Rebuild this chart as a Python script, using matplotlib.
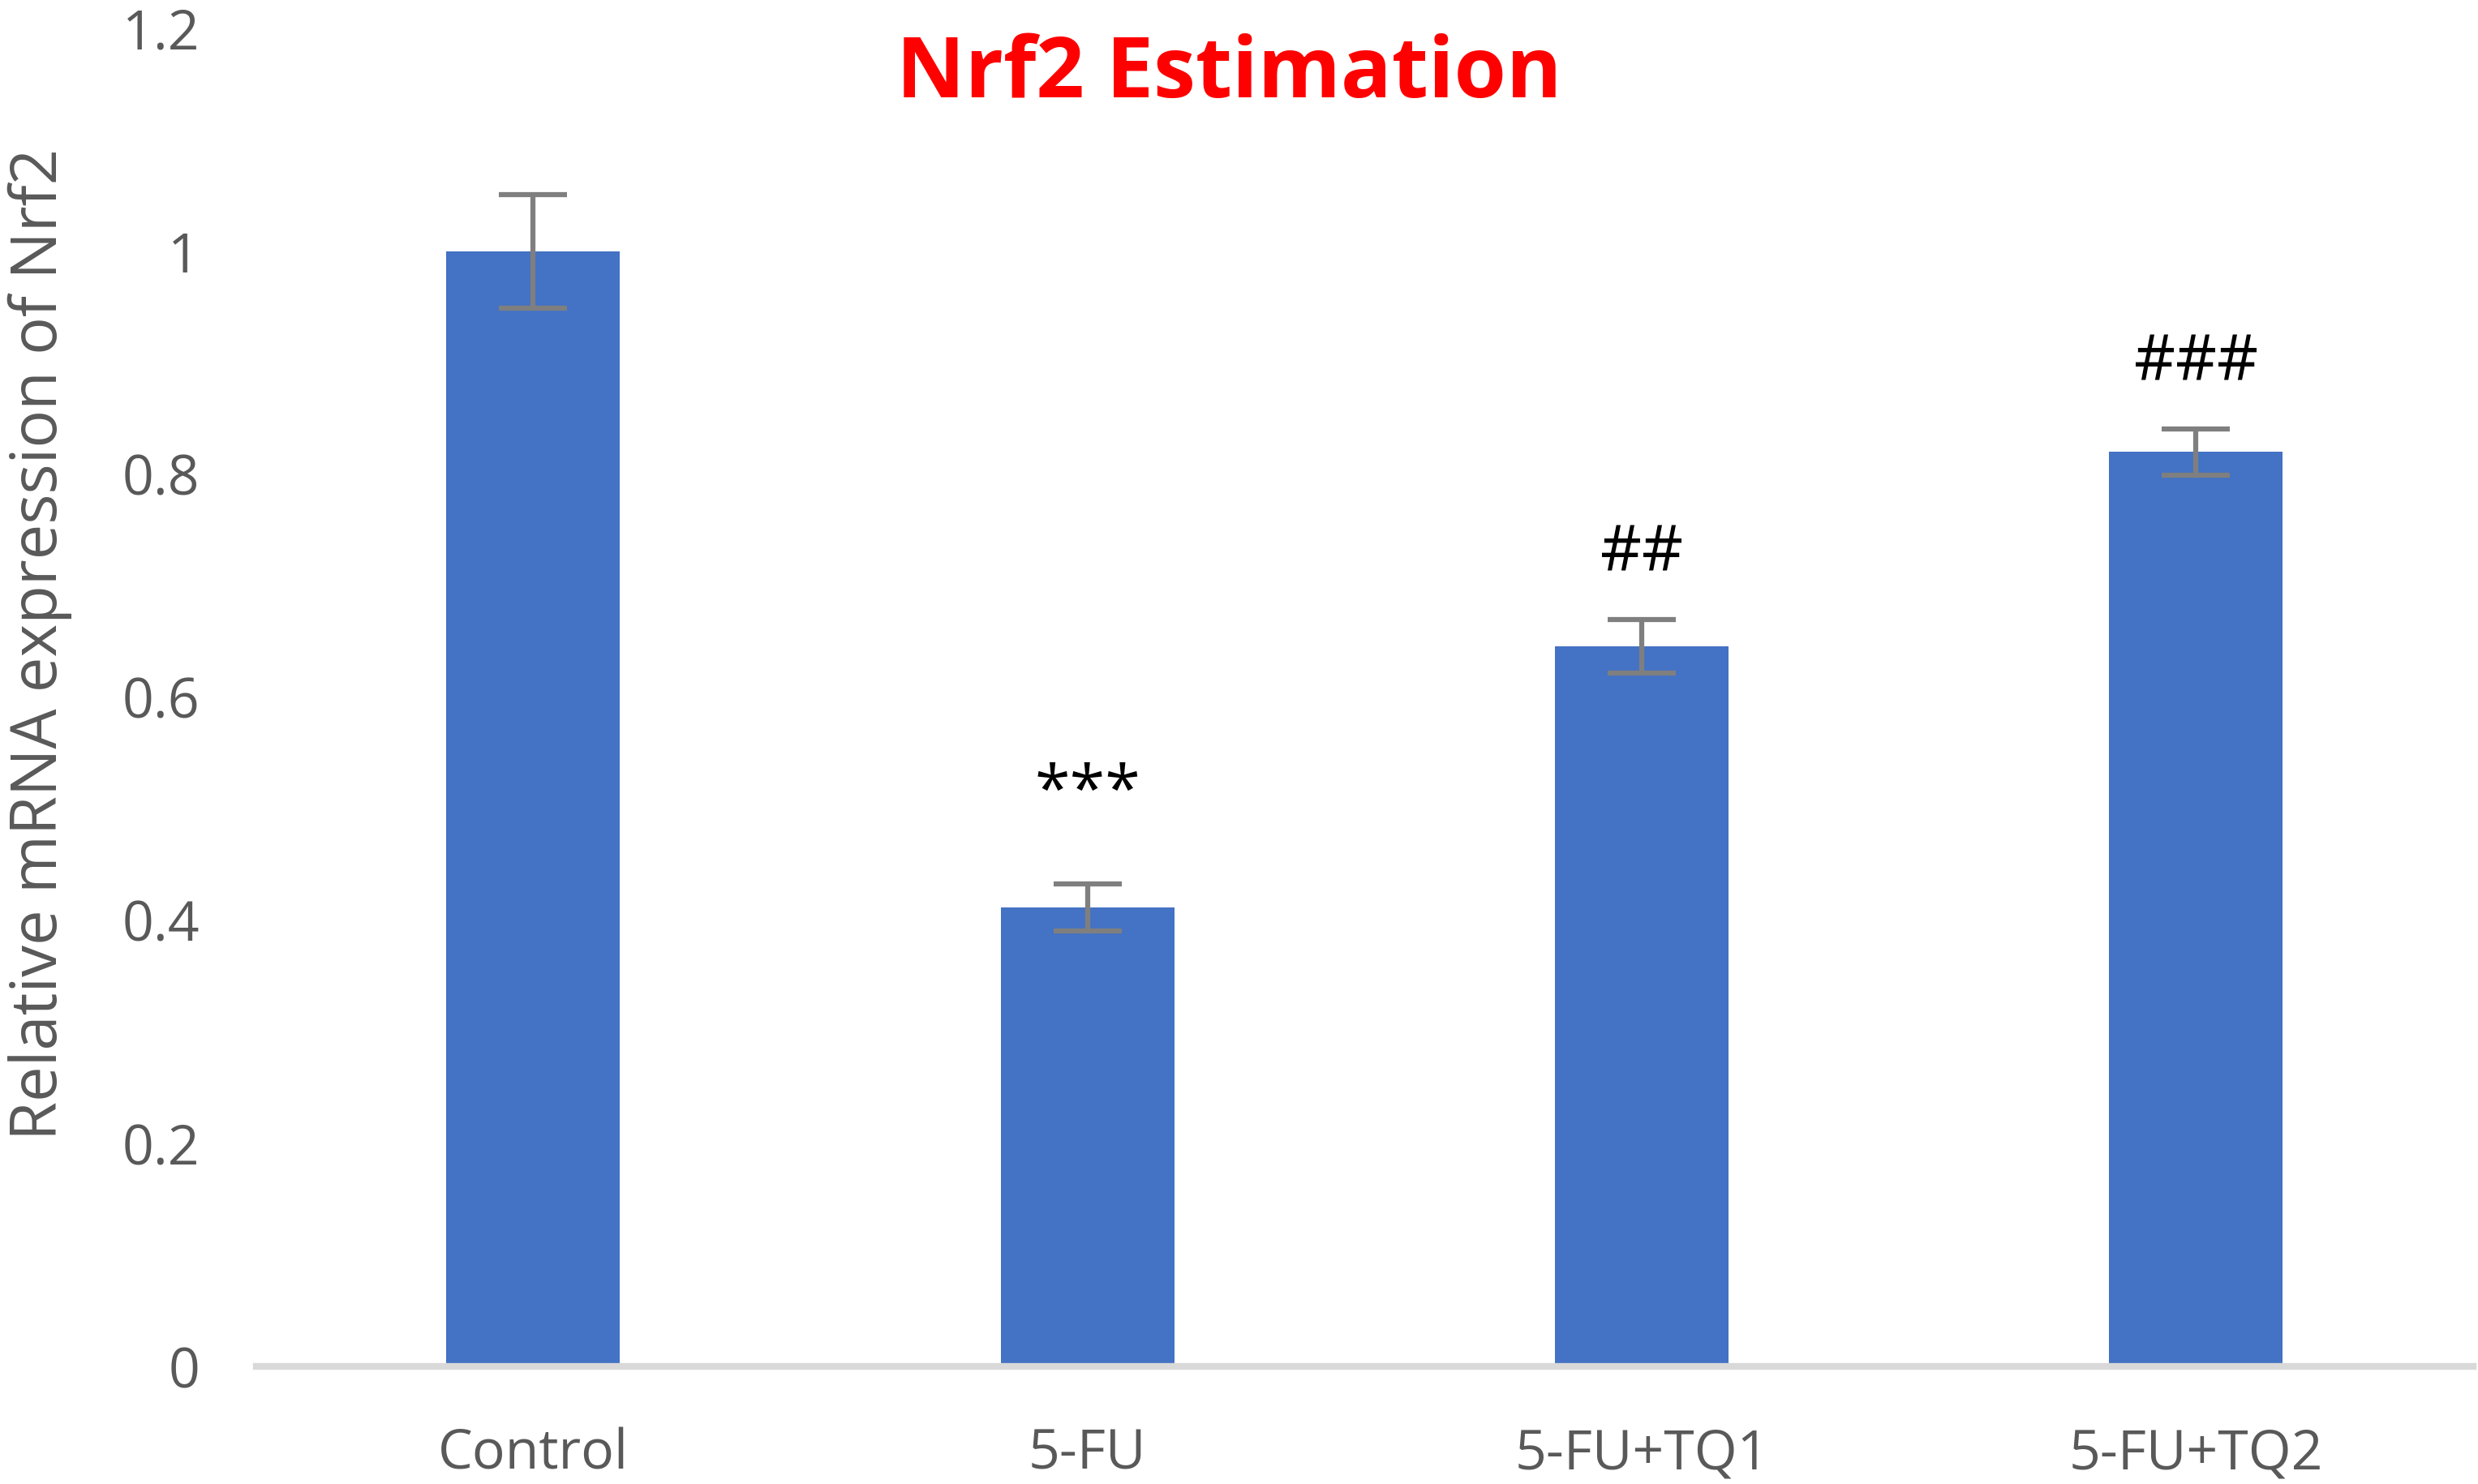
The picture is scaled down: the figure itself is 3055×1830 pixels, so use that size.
import numpy as np
import matplotlib
matplotlib.use("Agg")
import matplotlib.pyplot as plt

groups = ["Control", "5-FU", "5-FU+TQ1", "5-FU+TQ2"]
means = [1.0, 0.412, 0.646, 0.820]
errs = [0.051, 0.021, 0.024, 0.021]
marks = ["", "***", "##", "###"]

plt.rcParams['font.family'] = ['Open Sans', 'DejaVu Sans']

fig = plt.figure(figsize=(30.55, 18.3), dpi=100)
ax = fig.add_axes([0.1033, 0.079, 0.8947, 0.902])

x = np.arange(len(groups))
ax.bar(x, means, width=0.313, color='#4472C4', zorder=2)
ax.errorbar(x, means, yerr=errs, fmt='none', ecolor='#7F7F7F',
            elinewidth=4.5, capsize=30, capthick=4.5, zorder=3)

for i in range(len(groups)):
    if marks[i]:
        off = 0.08 if marks[i].startswith('*') else 0.058
        ax.text(x[i], means[i] + errs[i] + off, marks[i], ha='center', va='center',
                fontsize=57, color='black')

ax.set_xlim(-0.5, 3.5)
ax.set_ylim(0, 1.2)
ax.set_yticks([0, 0.2, 0.4, 0.6, 0.8, 1.0, 1.2])
ax.set_yticklabels(["0", "0.2", "0.4", "0.6", "0.8", "1", "1.2"])
ax.set_xticks(x)
ax.set_xticklabels(groups)
ax.tick_params(axis='both', length=0, labelsize=49, labelcolor='#595959')
ax.tick_params(axis='y', pad=50)
ax.tick_params(axis='x', pad=54)

for s in ['top', 'right', 'left']:
    ax.spines[s].set_visible(False)
ax.spines['bottom'].set_color('#D9D9D9')
ax.spines['bottom'].set_linewidth(6)

ax.set_ylabel("Relative mRNA expression of Nrf2", fontsize=56, color='#595959')
ax.yaxis.set_label_coords(-0.083, 0.54)
fig.text(0.496, 0.949, "Nrf2 Estimation", ha='center', va='center', fontsize=75,
         fontweight='bold', color='#FF0000')

fig.savefig("out.png", dpi=100)
